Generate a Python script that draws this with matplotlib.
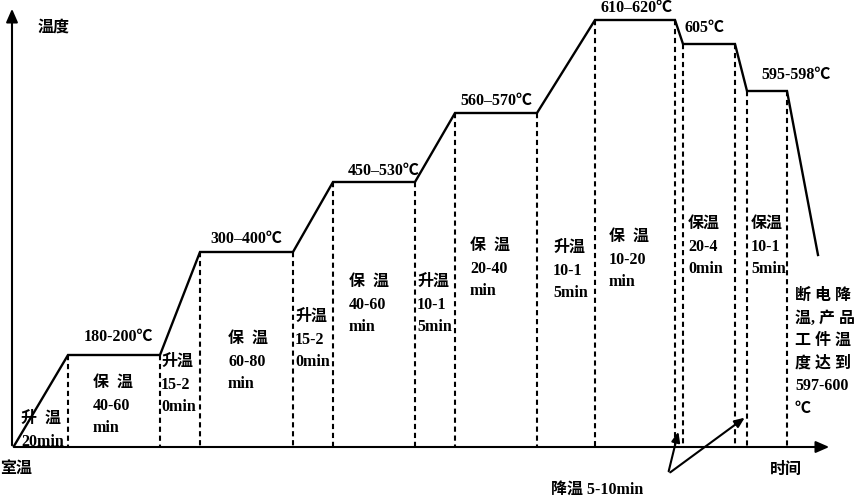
import matplotlib.pyplot as plt

plt.rcParams['font.family'] = ['Liberation Serif', 'Noto Sans CJK SC', 'DejaVu Sans']

# temperature profile (diagram units, x = time, y = height from top)
prof_x = [14, 68, 160, 200, 293, 333, 415, 455, 537, 595, 675, 683, 735, 747, 787, 818]
prof_y = [446, 355, 355, 252, 252, 182, 182, 113, 113, 20, 20, 44, 44, 91, 91, 255]

# dashed guide lines: (x, top y)
guide_x = [68, 160, 200, 293, 333, 415, 455, 537, 595, 675, 683, 735, 747, 787]
guide_top = [355, 355, 252, 252, 182, 182, 113, 113, 20, 20, 44, 44, 91, 91]
base_y = 447

# plateau temperature labels
temp_labels = ['180-200℃', '300–400℃', '450–530℃', '560–570℃', '610–620℃', '605℃', '595-598℃']
temp_lx = [118, 246, 384, 496, 637, 704, 796]
temp_ly = [337, 239, 171, 101, 8, 28, 75]

# phase labels
phase_labels = ['升  温\n20min', '保  温\n40-60\nmin', '升温\n15-2\n0min', '保  温\n60-80\nmin',
                '升温\n15-2\n0min', '保  温\n40-60\nmin', '升温\n10-1\n5min', '保  温\n20-40\nmin',
                '升温\n10-1\n5min', '保  温\n10-20\nmin', '保温\n20-4\n0min', '保温\n10-1\n5min',
                '断 电 降\n温, 产 品\n工 件 温\n度 达 到\n597-600\n℃']
phase_lx = [21, 93, 161, 228, 295, 349, 417, 470, 553, 609, 688, 751, 795]
phase_ly = [411, 375, 354, 331, 309, 274, 274, 238, 240, 229, 216, 216, 288]

fig = plt.figure(figsize=(8.55, 5.0), dpi=100)
ax = fig.add_axes([0, 0, 1, 1])
ax.set_xlim(0, 855)
ax.set_ylim(500, 0)
ax.axis('off')

# axes arrows
ax.annotate('', xy=(12, 6), xytext=(12, 448),
            arrowprops=dict(arrowstyle='-|>,head_width=0.35,head_length=0.8', color='black', lw=1.5))
ax.annotate('', xy=(832, 447), xytext=(11, 447),
            arrowprops=dict(arrowstyle='-|>,head_width=0.35,head_length=0.8', color='black', lw=1.5))

ax.plot(prof_x, prof_y, color='black', lw=1.7, solid_joinstyle='miter')

for gx, gt in zip(guide_x, guide_top):
    ax.plot([gx, gx], [gt, base_y], color='black', lw=1.5, linestyle=(0, (2.5, 1.8)))

fs = 11.5
for t, x, y in zip(temp_labels, temp_lx, temp_ly):
    ax.text(x, y, t, ha='center', va='center', fontsize=fs, fontweight='bold')

for t, x, y in zip(phase_labels, phase_lx, phase_ly):
    ax.text(x, y, t, ha='left', va='top', fontsize=fs, fontweight='bold', linespacing=1.55)

ax.text(38, 28, '温度', ha='left', va='center', fontsize=fs, fontweight='bold')
ax.text(0, 470, '室温', ha='left', va='center', fontsize=fs, fontweight='bold')
ax.text(770, 470, '时间', ha='left', va='center', fontsize=fs, fontweight='bold')
ax.text(597, 490, '降温 5-10min', ha='center', va='center', fontsize=fs, fontweight='bold')

# cooling arrows
for tip in [(679, 429), (747, 416)]:
    ax.annotate('', xy=tip, xytext=(668, 474),
                arrowprops=dict(arrowstyle='-|>,head_width=0.25,head_length=0.6', color='black', lw=1.5))

fig.savefig('out.png', dpi=100)
